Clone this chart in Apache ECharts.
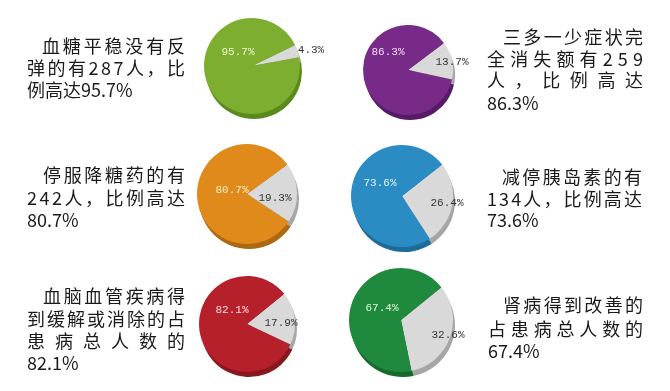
<!DOCTYPE html>
<html>
<head>
<meta charset="utf-8">
<script src="https://cdn.jsdelivr.net/npm/echarts@6/dist/echarts.min.js"></script>
<style>
html,body{margin:0;padding:0;background:#fff;}
#chart{width:670px;height:391px;}
</style>
</head>
<body>
<div id="chart"></div>
<script>
// ---------- data ----------
const mainValues  = [95.7, 86.3, 80.7, 73.6, 82.1, 67.4];
const otherValues = [4.3, 13.7, 19.3, 26.4, 17.9, 32.6];
const categories  = ['血糖平稳', '三多一少症状消失', '停服降糖药', '减停胰岛素', '心脑血管疾病缓解', '肾病改善'];
const captions = [
  ['血糖平稳没有反', '弹的有287人，比', '例高达95.7%'],
  ['三多一少症状完', '全消失额有259', '人，比例高达', '86.3%'],
  ['停服降糖药的有', '242人，比例高达', '80.7%'],
  ['减停胰岛素的有', '134人，比例高达', '73.6%'],
  ['血脑血管疾病得', '到缓解或消除的占', '患病总人数的', '82.1%'],
  ['肾病得到改善的', '占患病总人数的', '67.4%']
];

// ---------- layout / style ----------
const pieLayout = [ // cx, cy, r, startAngle
  [252, 66, 48, 26],
  [408, 70, 45, 37],
  [247, 194, 50, 36],
  [402, 196, 51, 38],
  [247, 324, 48, 39],
  [401, 320, 52, 39]
];
const rimOffset = [2, 5];
const mainColors = ['#7dae2f', '#782a88', '#df8a1b', '#2a8cc3', '#b5202b', '#1f8a3e'];
const rimColors  = ['#5b8a1c', '#561a66', '#ad6812', '#1d6b98', '#881820', '#156a2c'];
const mainLabelColors = ['#eef6cc', '#f4def4', '#fff0c4', '#dcf2ff', '#ffdede', '#dcf5d4'];
const grayColor = '#d9d9d9', grayRim = '#a6a6a6';
// label offsets relative to pie center: [other, main]
const labelOffsets = [
  [[59, -16], [-14, -14]],
  [[44, -8], [-20, -18]],
  [[28, 4], [-15, -4]],
  [[45, 7], [-22, -13]],
  [[34, -1], [-15, -14]],
  [[47, 15], [-19, -12]]
];
// caption blocks: per line [xStart, xEnd, yCenter, justify]
const captionLayout = [
  [[42,185,46,1],[27,185,68.5,1],[27,0,90.5,0]],
  [[503,643,37.5,1],[487,643,59.5,1],[487,643,80.5,1],[487,0,103,0]],
  [[43,185,175.5,1],[27,185,198.5,1],[27,0,220,0]],
  [[502,642,177,1],[487,642,199,1],[487,0,220,0]],
  [[43,185,296.5,1],[27,185,319,1],[27,185,341.5,1],[27,0,363.5,0]],
  [[503,643,305.5,1],[488,643,329,1],[488,0,351,0]]
];
const capFontSize = 18;
const capFontFamily = '"Noto Sans CJK SC", "Noto Sans", sans-serif';

const mctx = document.createElement('canvas').getContext('2d');
mctx.font = capFontSize + 'px ' + capFontFamily;

const graphics = [];
captions.forEach((lines, bi) => {
  lines.forEach((line, li) => {
    const [x0, x1, yc, just] = captionLayout[bi][li];
    const chars = Array.from(line);
    let text = line, rich = undefined;
    if (just && chars.length > 1) {
      const widths = chars.map(c => mctx.measureText(c).width);
      const total = widths.reduce((a, b) => a + b, 0);
      const gap = (x1 - x0 - total) / (chars.length - 1);
      rich = {};
      text = chars.map((c, i) => {
        rich['c' + i] = { width: widths[i] + (i < chars.length - 1 ? gap : 0), fontSize: capFontSize, fontFamily: capFontFamily, fill: '#1a1a1a' };
        return '{c' + i + '|' + c + '}';
      }).join('');
    }
    graphics.push({
      type: 'text', x: x0, y: yc, silent: true,
      style: { text, rich, fill: '#1a1a1a', fontSize: capFontSize, fontFamily: capFontFamily, verticalAlign: 'middle', align: 'left' }
    });
  });
});

const series = [];
mainValues.forEach((v, i) => {
  const [cx, cy, r, sa] = pieLayout[i];
  // rim (3D side)
  series.push({
    type: 'pie', silent: true, animation: false,
    center: [cx + rimOffset[0], cy + rimOffset[1]], radius: r, startAngle: sa, clockwise: true,
    label: { show: false }, labelLine: { show: false },
    data: [
      { name: '其他', value: otherValues[i], itemStyle: { color: grayRim } },
      { name: categories[i], value: v, itemStyle: { color: rimColors[i] } }
    ]
  });
  series.push({
    type: 'pie', silent: true, animation: false,
    center: [cx, cy], radius: r, startAngle: sa, clockwise: true,
    avoidLabelOverlap: false,
    label: {
      show: true, position: 'inside',
      formatter: p => p.value.toFixed(1) + '%',
      fontFamily: '"Liberation Mono", "DejaVu Sans Mono", monospace', fontSize: 11
    },
    labelLine: { show: false },
    labelLayout: (params) => {
      const off = labelOffsets[i][params.dataIndex];
      return { x: cx + off[0], y: cy + off[1], align: 'center', verticalAlign: 'middle' };
    },
    data: [
      { name: '其他', value: otherValues[i], itemStyle: { color: grayColor }, label: { color: '#333' } },
      { name: categories[i], value: v, itemStyle: { color: mainColors[i] }, label: { color: mainLabelColors[i] } }
    ]
  });
});

const chart = echarts.init(document.getElementById('chart'), null, { renderer: 'canvas', width: 670, height: 391 });
chart.setOption({
  backgroundColor: '#ffffff',
  animation: false,
  series,
  graphic: graphics
});
</script>
</body>
</html>
